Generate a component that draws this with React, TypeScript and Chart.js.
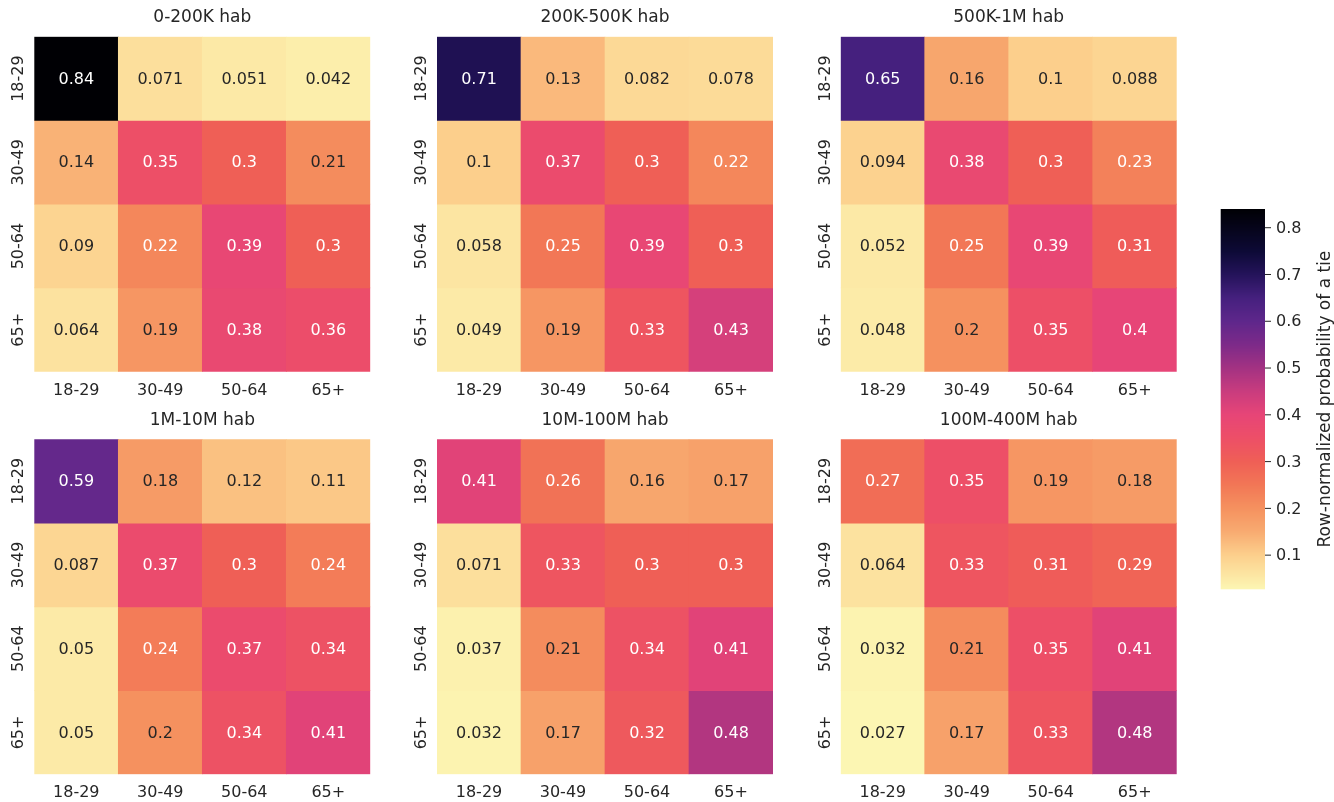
import React, { useEffect, useRef } from "react";
import { Chart, registerables } from "chart.js";

Chart.register(...registerables);

// ---- data ---------------------------------------------------------------
const ageGroups = ["18-29", "30-49", "50-64", "65+"];

const panelTitles = [
  "0-200K hab",
  "200K-500K hab",
  "500K-1M hab",
  "1M-10M hab",
  "10M-100M hab",
  "100M-400M hab",
];

// rows = age group of ego, columns = age group of alter
const ties0To200K = [
  [0.84, 0.071, 0.051, 0.042],
  [0.14, 0.35, 0.3, 0.21],
  [0.09, 0.22, 0.39, 0.3],
  [0.064, 0.19, 0.38, 0.36],
];
const ties200KTo500K = [
  [0.71, 0.13, 0.082, 0.078],
  [0.1, 0.37, 0.3, 0.22],
  [0.058, 0.25, 0.39, 0.3],
  [0.049, 0.19, 0.33, 0.43],
];
const ties500KTo1M = [
  [0.65, 0.16, 0.1, 0.088],
  [0.094, 0.38, 0.3, 0.23],
  [0.052, 0.25, 0.39, 0.31],
  [0.048, 0.2, 0.35, 0.4],
];
const ties1MTo10M = [
  [0.59, 0.18, 0.12, 0.11],
  [0.087, 0.37, 0.3, 0.24],
  [0.05, 0.24, 0.37, 0.34],
  [0.05, 0.2, 0.34, 0.41],
];
const ties10MTo100M = [
  [0.41, 0.26, 0.16, 0.17],
  [0.071, 0.33, 0.3, 0.3],
  [0.037, 0.21, 0.34, 0.41],
  [0.032, 0.17, 0.32, 0.48],
];
const ties100MTo400M = [
  [0.27, 0.35, 0.19, 0.18],
  [0.064, 0.33, 0.31, 0.29],
  [0.032, 0.21, 0.35, 0.41],
  [0.027, 0.17, 0.33, 0.48],
];

const colorbarTicks = [0.1, 0.2, 0.3, 0.4, 0.5, 0.6, 0.7, 0.8];
const colorbarLabel = "Row-normalized probability of a tie";

const matrices = [
  ties0To200K,
  ties200KTo500K,
  ties500KTo1M,
  ties1MTo10M,
  ties10MTo100M,
  ties100MTo400M,
];

const allValues = matrices.flat(2);
const vmin = Math.min(...allValues);
const vmax = Math.max(...allValues);

// ---- colour maps ----------------------------------------------------------
// fill palette: a warm magma-like ramp, light (low) -> black (high)
const FILL_STOPS: [number, string][] = [
  [0.0, "#fcf6b3"],
  [0.09, "#fccf8c"],
  [0.151, "#f8ab71"],
  [0.213, "#f5915f"],
  [0.274, "#f27756"],
  [0.336, "#ef5f56"],
  [0.397, "#ed4f67"],
  [0.459, "#e74577"],
  [0.52, "#c93c7e"],
  [0.582, "#a33282"],
  [0.643, "#7d2a89"],
  [0.705, "#5e278b"],
  [0.766, "#45207e"],
  [0.828, "#24135a"],
  [0.889, "#0d0a36"],
  [1.0, "#000004"],
];

const hexRgb = (h: string) => [1, 3, 5].map((i) => parseInt(h.slice(i, i + 2), 16));

function fillColor(v: number): number[] {
  const u = Math.max(0, Math.min(1, (v - vmin) / (vmax - vmin)));
  for (let i = 0; i < FILL_STOPS.length - 1; i++) {
    const [u0, c0] = FILL_STOPS[i];
    const [u1, c1] = FILL_STOPS[i + 1];
    if (u <= u1 || i === FILL_STOPS.length - 2) {
      const f = (u - u0) / (u1 - u0);
      const a = hexRgb(c0);
      const b = hexRgb(c1);
      return [0, 1, 2].map((k) => a[k] + (b[k] - a[k]) * f);
    }
  }
  return hexRgb(FILL_STOPS[FILL_STOPS.length - 1][1]);
}

// standard magma (reversed), used to pick a readable annotation colour
const MAGMA: number[][] = [
  [0, 0, 4],
  [20, 14, 54],
  [59, 15, 112],
  [100, 26, 128],
  [140, 41, 129],
  [183, 55, 121],
  [222, 73, 104],
  [247, 112, 92],
  [254, 159, 109],
  [254, 207, 146],
  [252, 253, 191],
];

function magmaR(v: number): number[] {
  let t = 1 - (v - vmin) / (vmax - vmin);
  t = Math.max(0, Math.min(1, t));
  const s = t * (MAGMA.length - 1);
  const i = Math.min(MAGMA.length - 2, Math.floor(s));
  const f = s - i;
  const a = MAGMA[i];
  const b = MAGMA[i + 1];
  return [0, 1, 2].map((k) => a[k] + (b[k] - a[k]) * f);
}

const css = (c: number[]) =>
  `rgb(${Math.round(c[0])}, ${Math.round(c[1])}, ${Math.round(c[2])})`;

function luminance(c: number[]): number {
  const lin = c.map((x) => {
    const s = x / 255;
    return s <= 0.03928 ? s / 12.92 : Math.pow((s + 0.055) / 1.055, 2.4);
  });
  return 0.2126 * lin[0] + 0.7152 * lin[1] + 0.0722 * lin[2];
}

const TEXT = "#262626";
const FONT = '"DejaVu Sans", sans-serif';
const textColorFor = (v: number) => (luminance(magmaR(v)) > 0.408 ? TEXT : "#ffffff");

// ---- layout ---------------------------------------------------------------
const HEAT_LEFTS = [34.3, 437, 840.7];
const HEAT_TOPS = [36.7, 439.3];
const HEAT_W = 336;
const HEAT_H = 335;
const M_LEFT = 34;
const M_TOP = 37;
const M_RIGHT = 30;
const M_BOTTOM = 28;

const CB_LEFT = 1220.7;
const CB_RIGHT = 1265;
const CB_TOP = 209;
const CB_BOTTOM = 589.3;

// ---- plugins --------------------------------------------------------------
const heatmapText = (title: string, values: number[][]) => ({
  id: "heatmapText",
  afterDatasetsDraw(chart: any) {
    const { ctx, chartArea, scales } = chart;
    ctx.save();
    ctx.textAlign = "center";

    // cell annotations
    ctx.font = `16px ${FONT}`;
    ctx.textBaseline = "middle";
    chart.data.datasets.forEach((_ds: any, r: number) => {
      const meta = chart.getDatasetMeta(r);
      meta.data.forEach((bar: any, c: number) => {
        const { x, y, base } = bar.getProps(["x", "y", "base"], true);
        const v = values[r][c];
        ctx.fillStyle = textColorFor(v);
        ctx.fillText(String(v), x, (y + base) / 2 + 1);
      });
    });

    // panel title
    ctx.textBaseline = "alphabetic";
    ctx.fillStyle = TEXT;
    ctx.font = `17px ${FONT}`;
    ctx.fillText(title, (chartArea.left + chartArea.right) / 2, chartArea.top - 14.5);

    // x tick labels
    ctx.font = `16px ${FONT}`;
    ageGroups.forEach((g, c) => {
      ctx.fillText(g, scales.x.getPixelForValue(c), chartArea.bottom + 23);
    });

    // y tick labels, rotated
    ageGroups.forEach((g, r) => {
      const yy = scales.y.getPixelForValue(r + 0.5);
      ctx.save();
      ctx.translate(chartArea.left - 11, yy);
      ctx.rotate(-Math.PI / 2);
      ctx.fillText(g, 0, 0);
      ctx.restore();
    });
    ctx.restore();
  },
});

const colorbarPlugin = {
  id: "colorbarPlugin",
  beforeDatasetsDraw(chart: any) {
    const { ctx, chartArea, scales } = chart;
    const y = scales.y;
    ctx.save();
    for (let py = Math.floor(chartArea.top); py < Math.ceil(chartArea.bottom); py++) {
      const v = y.getValueForPixel(py + 0.5);
      ctx.fillStyle = css(fillColor(v));
      const top = Math.max(py, chartArea.top);
      const bot = Math.min(py + 1, chartArea.bottom);
      ctx.fillRect(chartArea.left, top, chartArea.right - chartArea.left, bot - top);
    }
    ctx.restore();
  },
  afterDraw(chart: any) {
    const { ctx, chartArea, scales, width } = chart;
    const y = scales.y;
    ctx.save();
    ctx.strokeStyle = TEXT;
    ctx.fillStyle = TEXT;
    ctx.lineWidth = 1;
    ctx.font = `16px ${FONT}`;
    ctx.textAlign = "left";
    ctx.textBaseline = "middle";
    colorbarTicks.forEach((t) => {
      const py = y.getPixelForValue(t);
      ctx.beginPath();
      ctx.moveTo(chartArea.right, py);
      ctx.lineTo(chartArea.right + 6, py);
      ctx.stroke();
      ctx.fillText(String(t), chartArea.right + 11, py + 1);
    });

    ctx.font = `17px ${FONT}`;
    ctx.textAlign = "center";
    ctx.textBaseline = "alphabetic";
    ctx.translate(width - 4, (chartArea.top + chartArea.bottom) / 2);
    ctx.rotate(-Math.PI / 2);
    ctx.fillText(colorbarLabel, 0, 0);
    ctx.restore();
  },
};

// ---- components -----------------------------------------------------------
function HeatPanel({ index }: { index: number }) {
  const ref = useRef<HTMLCanvasElement | null>(null);
  const col = index % 3;
  const row = Math.floor(index / 3);
  const hx = HEAT_LEFTS[col];
  const hy = HEAT_TOPS[row];
  const cx = Math.floor(hx) - M_LEFT;
  const cy = Math.floor(hy) - M_TOP;
  const w = M_LEFT + HEAT_W + M_RIGHT + 2;
  const h = M_TOP + HEAT_H + M_BOTTOM + 2;

  useEffect(() => {
    const values = matrices[index];
    const padLeft = hx - cx;
    const padTop = hy - cy;
    const chart = new Chart(ref.current as HTMLCanvasElement, {
      type: "bar",
      data: {
        labels: ageGroups,
        datasets: values.map((rowVals, r) => ({
          label: ageGroups[r],
          data: rowVals.map(() => [r, r + 1]),
          backgroundColor: rowVals.map((v) => css(fillColor(v))),
          borderWidth: 0,
          borderSkipped: false,
          grouped: false,
          barPercentage: 1,
          categoryPercentage: 1,
        })) as any,
      },
      options: {
        responsive: false,
        animation: false,
        devicePixelRatio: 1,
        events: [],
        layout: {
          padding: {
            left: padLeft,
            top: padTop,
            right: w - padLeft - HEAT_W,
            bottom: h - padTop - HEAT_H,
          },
        },
        scales: {
          x: { type: "category", display: false },
          y: { type: "linear", min: 0, max: 4, reverse: true, display: false },
        },
        plugins: {
          legend: { display: false },
          tooltip: { enabled: false },
        },
      },
      plugins: [heatmapText(panelTitles[index], values)],
    } as any);
    return () => chart.destroy();
  }, [index]);

  return (
    <canvas
      ref={ref}
      width={w}
      height={h}
      style={{ position: "absolute", left: cx, top: cy, width: w, height: h }}
    />
  );
}

function Colorbar() {
  const ref = useRef<HTMLCanvasElement | null>(null);
  const cx = 1200;
  const cy = 190;
  const w = 134;
  const h = 420;

  useEffect(() => {
    const chart = new Chart(ref.current as HTMLCanvasElement, {
      type: "bar",
      data: { labels: ["scale"], datasets: [] },
      options: {
        responsive: false,
        animation: false,
        devicePixelRatio: 1,
        events: [],
        layout: {
          padding: {
            left: CB_LEFT - cx,
            top: CB_TOP - cy,
            right: cx + w - CB_RIGHT,
            bottom: cy + h - CB_BOTTOM,
          },
        },
        scales: {
          x: { type: "category", display: false },
          y: { type: "linear", min: vmin, max: vmax, display: false },
        },
        plugins: {
          legend: { display: false },
          tooltip: { enabled: false },
        },
      },
      plugins: [colorbarPlugin],
    } as any);
    return () => chart.destroy();
  }, []);

  return (
    <canvas
      ref={ref}
      width={w}
      height={h}
      style={{ position: "absolute", left: cx, top: cy, width: w, height: h }}
    />
  );
}

export default function App() {
  return (
    <div
      style={{
        position: "fixed",
        left: 0,
        top: 0,
        width: 1334,
        height: 802,
        background: "#ffffff",
        overflow: "hidden",
      }}
    >
      {panelTitles.map((_t, i) => (
        <HeatPanel key={i} index={i} />
      ))}
      <Colorbar />
    </div>
  );
}
